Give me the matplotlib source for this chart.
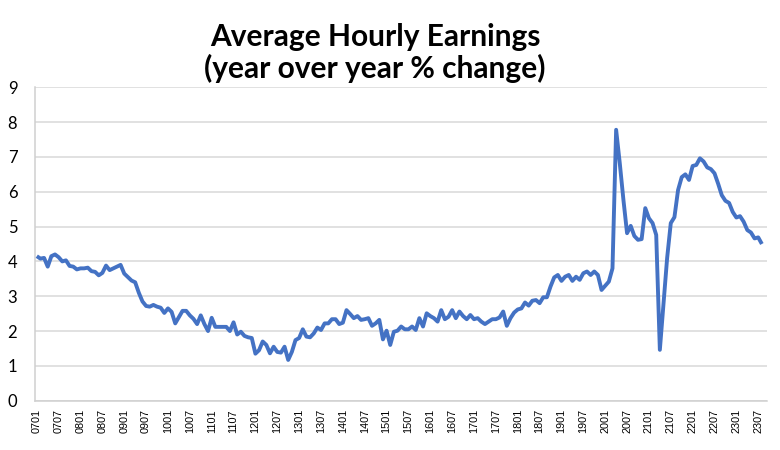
import matplotlib

matplotlib.use("Agg")
import matplotlib.pyplot as plt  # noqa: E402
import pandas as pd  # noqa: E402

# monthly categories, Jan 2007 .. Aug 2023
months = [p.strftime("%y%m") for p in pd.period_range("2007-01", "2023-08", freq="M")]

# year over year % change, one row per year
yoy_change = [
    4.15, 4.08, 4.10, 3.85, 4.15, 4.20, 4.12, 4.00, 4.03, 3.87, 3.85, 3.77,
    3.80, 3.80, 3.82, 3.72, 3.70, 3.60, 3.67, 3.88, 3.75, 3.80, 3.85, 3.90,
    3.65, 3.55, 3.45, 3.40, 3.10, 2.85, 2.72, 2.70, 2.75, 2.70, 2.67, 2.52,
    2.65, 2.55, 2.22, 2.40, 2.58, 2.58, 2.45, 2.35, 2.20, 2.45, 2.20, 2.00,
    2.38, 2.12, 2.12, 2.12, 2.12, 2.00, 2.25, 1.90, 1.98, 1.86, 1.82, 1.80,
    1.35, 1.45, 1.70, 1.60, 1.36, 1.55, 1.40, 1.38, 1.55, 1.17, 1.40, 1.74,
    1.80, 2.05, 1.84, 1.82, 1.93, 2.10, 2.03, 2.22, 2.22, 2.34, 2.34, 2.20,
    2.24, 2.60, 2.49, 2.37, 2.43, 2.32, 2.34, 2.37, 2.15, 2.22, 2.32, 1.76,
    2.01, 1.60, 1.98, 2.01, 2.13, 2.05, 2.05, 2.13, 2.03, 2.37, 2.13, 2.51,
    2.43, 2.37, 2.27, 2.60, 2.34, 2.41, 2.60, 2.37, 2.56, 2.43, 2.34, 2.46,
    2.34, 2.37, 2.27, 2.20, 2.27, 2.34, 2.34, 2.39, 2.56, 2.15, 2.37, 2.53,
    2.62, 2.65, 2.82, 2.73, 2.87, 2.89, 2.80, 2.97, 2.97, 3.28, 3.54, 3.61,
    3.44, 3.56, 3.61, 3.44, 3.56, 3.47, 3.66, 3.71, 3.61, 3.71, 3.61, 3.18,
    3.30, 3.42, 3.80, 7.78, 6.82, 5.77, 4.81, 5.02, 4.73, 4.62, 4.64, 5.53,
    5.24, 5.10, 4.76, 1.46, 2.80, 4.10, 5.10, 5.27, 6.05, 6.42, 6.50, 6.34,
    6.74, 6.77, 6.96, 6.87, 6.70, 6.65, 6.53, 6.23, 5.90, 5.74, 5.68, 5.42,
    5.26, 5.30, 5.14, 4.90, 4.83, 4.66, 4.69, 4.50,
]

tick_labels = [
    "0701", "0707", "0801", "0807", "0901", "0907", "1001", "1007", "1101",
    "1107", "1201", "1207", "1301", "1307", "1401", "1407", "1501", "1507",
    "1601", "1607", "1701", "1707", "1801", "1807", "1901", "1907", "2001",
    "2007", "2101", "2107", "2201", "2207", "2301", "2307",
]
y_ticks = [0, 1, 2, 3, 4, 5, 6, 7, 8, 9]

fig = plt.figure(figsize=(7.8, 4.5), dpi=100)
ax = fig.add_axes([0.0453, 0.1096, 0.938, 0.6964])

x = list(range(len(months)))
ax.plot(x, yoy_change, color="#4472C4", lw=2.8, solid_joinstyle="round",
        solid_capstyle="butt", zorder=3)

ax.set_xlim(-0.4, 200.4)
ax.set_ylim(0, 9)
ax.set_yticks(y_ticks)
ax.set_yticklabels([str(v) for v in y_ticks], fontfamily="Lato", fontsize=12)
ax.set_xticks([months.index(t) for t in tick_labels])
ax.set_xticklabels(tick_labels, rotation=90, fontfamily="Liberation Sans",
                   fontsize=7.8)
ax.tick_params(axis="x", length=0, pad=6)
ax.tick_params(axis="y", length=0, pad=13)

ax.grid(axis="y", color="#d9d9d9", lw=1.1, zorder=0)
for side in ("top", "right"):
    ax.spines[side].set_visible(False)
for side in ("left", "bottom"):
    ax.spines[side].set_color("#d0d0d0")
    ax.spines[side].set_linewidth(1.1)

fig.text(375 / 780, 1 - 78 / 450, "Average Hourly Earnings\n(year over year % change)",
         ha="center", va="baseline", fontfamily="Lato", fontweight="bold",
         fontsize=21.5, linespacing=1.1, multialignment="center")

fig.savefig("out.png", dpi=100)
plt.close(fig)
